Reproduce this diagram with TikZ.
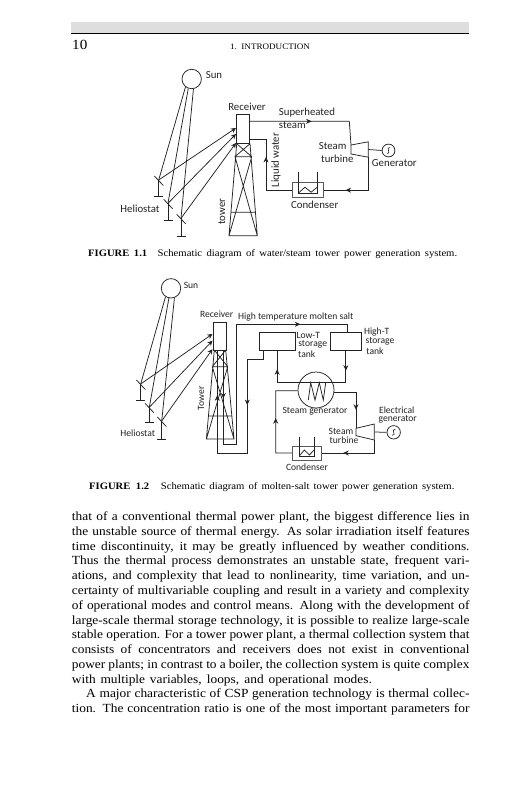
\documentclass[tikz,border=0pt]{standalone}
\usepackage{fontspec}
\usetikzlibrary{arrows.meta,calc,positioning,decorations.markings}
\newfontfamily\bookfont[FakeStretch=1.08]{Liberation Serif}
\newfontfamily\labelfont{Carlito}
\definecolor{wire}{RGB}{35,35,35}
\definecolor{band}{RGB}{222,222,222}
\tikzset{
  ln/.style={wire,line width=0.75pt},
  flow/.style={postaction={decorate,decoration={markings,mark=at position #1 with {\arrow{Stealth[length=5.5pt,width=5pt]}}}}},
  lbl/.style={font=\labelfont\fontsize{10.8}{12}\selectfont,inner sep=0pt,text=wire},
  lblb/.style={font=\labelfont\fontsize{9.6}{11}\selectfont,inner sep=0pt,text=wire},
  pagetext/.style={font=\bookfont\fontsize{12.4}{14}\selectfont,inner sep=0pt,anchor=base west},
  captext/.style={font=\bookfont\fontsize{9.9}{11}\selectfont,inner sep=0pt,anchor=base west},
  vessel/.style={draw=wire,line width=0.75pt,fill=white,inner sep=0pt},
  roundpart/.style={draw=wire,line width=0.75pt,circle,inner sep=0pt}
}
\begin{document}
\begin{tikzpicture}[x=1pt,y=-1pt,>={Stealth[length=5pt,width=5pt]}]
  \useasboundingbox (0,0) rectangle (531,800);
  % page head
  \fill[band] (70.7,22.3) rectangle (469.3,33.3);
  \draw[black,line width=1pt] (70.7,33.8) -- (469.3,33.8);
  \node[font=\bookfont\fontsize{14}{16}\selectfont,inner sep=0pt,anchor=base west] (pageno) at (72,50) {10};
  \node[font=\bookfont\fontsize{8.4}{10}\selectfont,inner sep=0pt,anchor=base] (headline) at (270,49) {\makebox[80pt][s]{1. INTRODUCTION}};
  % figure 1.1: heliostats, then tower
  \node[roundpart,minimum size=19.4pt] (sunA) at (191.7,79) {};
  \node[roundpart,minimum size=19.4pt] (sunB) at (171,288.3) {};
  \node[vessel,minimum width=13pt,minimum height=29.4pt] (recvA) at (243.3,129) {};
  \node[vessel,minimum width=13pt,minimum height=27.7pt] (recvB) at (219.8,336.2) {};
  \foreach \n/\x/\y/\b in {a1/158.7/180/196,a2/168/203.3/220,a3/181/218.3/236.7,b1/140.7/384/400,b2/149.3/407.3/422.7,b3/161.7/421/439} {
    \coordinate (h\n) at (\x,\y);
    \draw[ln] (\x-4.3,\y-4) -- (\x+4.6,\y+5.5);
    \draw[ln] (\x,\y) -- (\x,\b);
    \draw[ln] (\x-4.5,\b) -- (\x+4.5,\b); }
  \foreach \n/\o in {a1/232,a2/250,a3/280} \draw[ln] (sunA.\o) -- (h\n);
  \foreach \n/\o in {b1/237,b2/258,b3/290} \draw[ln] (sunB.\o) -- (h\n);
  \foreach \n/\d in {a1/-1,a2/5,a3/14} \draw[ln,->] (h\n) -- ($(recvA.west)+(-0.5,\d)$);
  \foreach \n/\d in {b1/-2.2,b2/4.5,b3/13} \draw[ln,->] (h\n) -- ($(recvB.west)+(-0.5,\d)$);
  \draw[ln] (236.7,143.7) -- (229,235.7) -- (257.3,235.7) -- (250,143.7)
    (236.7,143.7) -- (251.7,156.7) -- (229,235.7) (250,143.7) -- (235,156.7) -- (257.3,235.7)
    (235.5,156.7) -- (251.2,156.7) (231,212.3) -- (255.4,212.3);
  \draw[ln] (214.3,350) -- (206.4,439) -- (234,439) -- (225.7,350)
    (214.3,350) -- (227.7,366.7) -- (206.4,439) (225.7,350) -- (212.3,366.7) -- (234,439)
    (212.8,366.7) -- (227.2,366.7) (208.5,416) -- (231.8,416);
  % steam cycle parts
  \foreach \n/\x/\y/\w/\h/\bw/\bt in {A/308/190.2/30.6/15/9.2/18.5,B/306.85/453/28.3/14/7.3/16.3} {
    \node[draw=wire!75,line width=1pt,fill=white,inner sep=0pt,minimum width=\w pt,minimum height=\h pt] (cond\n) at (\x,\y) {};
    \draw[ln] (\x-\bw,\y-\bt) -- (\x-\bw,\y+3) -- (\x+\bw,\y+3) -- (\x+\bw,\y-\bt);
    \draw[ln] (\x-\bw,\y+2.5) -- (\x-\bw/3,\y-3) -- (\x+\bw/3,\y+2) -- (\x+\bw,\y-3); }
  \foreach \n/\x/\y/\w/\h/\r in {A/351/149.5/17.3/4.5/7.7,B/356/432/18.3/3.7/8} {
    \coordinate (tin\n) at (\x,\y-\h);
    \coordinate (tout\n) at (\x+\w,\y+\r);
    \coordinate (tshaft\n) at (\x+\w,\y);
    \draw[ln,fill=white] (\x,\y-\h) -- (\x+\w,\y-\r) -- (\x+\w,\y+\r) -- (\x,\y+\h) -- cycle; }
  \node[roundpart,minimum size=12.8pt] (genA) at (388.5,150.5) {};
  \node[roundpart,minimum size=13.4pt] (genB) at (393.7,432.3) {};
  \foreach \n in {A,B} {
    \draw[ln] (tshaft\n) -- (gen\n.west);
    \draw[ln,line width=0.6pt] ($(gen\n)+(1.6,-3)$) .. controls ($(gen\n)+(-3.6,-3.4)$) and ($(gen\n)+(3.6,3.4)$) .. ($(gen\n)+(-1.6,3)$); }
  % figure 1.1 loop
  \coordinate (steamout) at (recvA.east |- 0,121.3);
  \coordinate (waterin) at (recvA.east |- 0,139.3);
  \draw[ln,flow=0.5] (steamout) -- (349.3,121.3) -- (tinA);
  \draw[ln,flow=0.72] (toutA) |- (condA.east);
  \draw[ln,flow=0.64] (condA.west) -| (266,139.3) -- (waterin);
  % figure 1.2 salt loop
  \node[vessel,minimum width=35.7pt,minimum height=18pt] (lowT) at (277.15,341.7) {};
  \node[vessel,minimum width=31.7pt,minimum height=18pt] (highT) at (345.85,341.7) {};
  \node[roundpart,minimum size=36pt] (steamgen) at (316,390) {};
  \coordinate (hotout) at (223.3,350);
  \coordinate (coldin) at (217.3,350);
  \draw[ln,flow=0.14,flow=0.84] (hotout) -- (223.3,444) -- (236.7,444) -- (236.7,324.3) -- (347.3,324.3) -- (347.3,332.7);
  \draw[ln,flow=0.28,flow=0.82] (263.3,350.7) -- (263.3,359) -- (247.3,359) -- (247.3,453) -- (217.3,453) -- (coldin);
  \draw[ln,flow=0.66] (steamgen.156) -| (lowT.south);
  \draw[ln,flow=0.44] (highT.south) |- (steamgen.24);
  \draw[ln] (steamgen.156) -- (steamgen.24);
  \draw[ln] (308.3,400) -- (310.7,382.7) -- (315,400) -- (319.3,382.7) -- (323.3,400) -- (325.7,382.7);
  \draw[ln,flow=0.68] (steamgen.353) -| (tinB);
  \draw[ln,flow=0.51] (condB.west) -| (275.7,390.7) -- (steamgen.182);
  \draw[ln,flow=0.67] (toutB) |- (condB.east);
  % labels
  \foreach \n/\x/\y/\l in {sun/214/75.5/Sun,recv/247/107/Receiver,steam/332.7/145.7/Steam,turb/337.3/159/turbine,gen/394.3/163.3/Generator,cond/314.7/204.7/Condenser,hel/140/209/Heliostat}
    \node[lbl] (lab\n) at (\x,\y) {\l};
  \node[lbl,anchor=west] (labsuper) at (278.7,112.3) {Superheated};
  \node[lbl,anchor=west] (labsteam) at (278.7,125.3) {steam};
  \node[lbl,rotate=90] (labwater) at (276,160) {Liquid water};
  \node[lbl,rotate=90] (labtower) at (221.7,211.7) {tower};
  \foreach \n/\x/\y/\l in {sun/191/285.3/Sun,recv/216.7/314.7/Receiver,low/308.3/335/Low-T,lows/312.7/344.7/storage,lowt/306.7/354.3/tank,high/376.7/331.7/High-T,highs/380/341.3/storage,hight/375/350.7/tank,sg/315/411/Steam generator,steam/341/431.3/Steam,turb/344/440.3/turbine,elec/396.7/409.7/Electrical,gen/397.7/419/generator,cond/307/467.3/Condenser,hel/137.7/433/Heliostat}
    \node[lblb] (labb\n) at (\x,\y) {\l};
  \node[lblb] (labsalt) at (295.7,317) {High temperature molten salt};
  \node[lblb,rotate=90] (labbtower) at (201,398.3) {Tower};
  % captions
  \node[captext,font=\bookfont\bfseries\fontsize{9.8}{11}\selectfont] (figa) at (88,256) {\makebox[59pt][s]{FIGURE 1.1}};
  \node[captext] (capa) at (157.5,256) {\makebox[299.5pt][s]{Schematic diagram of water/steam tower power generation system.}};
  \node[captext,font=\bookfont\bfseries\fontsize{9.8}{11}\selectfont] (figb) at (89,489) {\makebox[60pt][s]{FIGURE 1.2}};
  \node[captext] (capb) at (160.7,489) {\makebox[293.5pt][s]{Schematic diagram of molten-salt tower power generation system.}};
  % body text
  \foreach \i/\x/\w/\l in {0/71.7/397.6/{that of a conventional thermal power plant, the biggest difference lies in},
    1/71.7/397.6/{the unstable source of thermal energy. As solar irradiation itself features},
    2/71.7/397.6/{time discontinuity, it may be greatly influenced by weather conditions.},
    3/71.7/397.6/{Thus the thermal process demonstrates an unstable state, frequent vari-},
    4/71.7/397.6/{ations, and complexity that lead to nonlinearity, time variation, and un-},
    5/71.7/397.6/{certainty of multivariable coupling and result in a variety and complexity},
    6/71.7/397.6/{of operational modes and control means. Along with the development of},
    7/71.7/397.6/{large-scale thermal storage technology, it is possible to realize large-scale},
    8/71.7/397.6/{stable operation. For a tower power plant, a thermal collection system that},
    9/71.7/397.6/{consists of concentrators and receivers does not exist in conventional},
    10/71.7/397.6/{power plants; in contrast to a boiler, the collection system is quite complex},
    11/71.7/300/{with multiple variables, loops, and operational modes.},
    12/86/383.3/{A major characteristic of CSP generation technology is thermal collec-},
    13/71.7/397.6/{tion. The concentration ratio is one of the most important parameters for}}
    \node[pagetext] (line\i) at (\x,520.5+14.79*\i) {\makebox[\w pt][s]{\l}};
\end{tikzpicture}
\end{document}
